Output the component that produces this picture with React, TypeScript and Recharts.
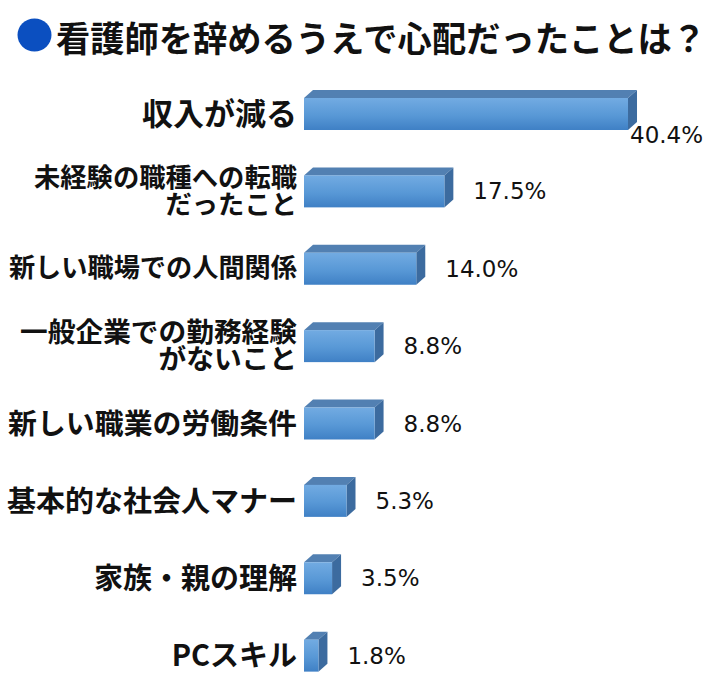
import React from "react";
import { BarChart, Bar, XAxis, YAxis, LabelList } from "recharts";

const TITLE = "看護師を辞めるうえで心配だったことは？";

const categories = [
  "収入が減る",
  "未経験の職種への転職\nだったこと",
  "新しい職場での人間関係",
  "一般企業での勤務経験\nがないこと",
  "新しい職業の労働条件",
  "基本的な社会人マナー",
  "家族・親の理解",
  "PCスキル",
];

const values = [40.4, 17.5, 14.0, 8.8, 8.8, 5.3, 3.5, 1.8];

const valueLabels = ["40.4%", "17.5%", "14.0%", "8.8%", "8.8%", "5.3%", "3.5%", "1.8%"];

const data = categories.map((c, i) => ({ label: c, value: values[i], text: valueLabels[i] }));

// styling
const labelFontSizes = [31, 26.3, 26.2, 27.7, 28.9, 29, 29, 29];
const DX = 9;
const DY = 8;
const CHART_W = 720;

const Bar3D = (props: any) => {
  const { x, y, width, height } = props;
  if (width == null || width <= 0) return null;
  return (
    <g>
      <defs>
        <linearGradient id="frontGrad" x1="0" y1="0" x2="0" y2="1">
          <stop offset="0%" stopColor="#72abe2" />
          <stop offset="55%" stopColor="#5898d6" />
          <stop offset="100%" stopColor="#3f80c5" />
        </linearGradient>
      </defs>
      <polygon
        points={`${x},${y} ${x + DX},${y - DY} ${x + width + DX},${y - DY} ${x + width},${y}`}
        fill="#5280b2"
      />
      <polygon
        points={`${x + width},${y} ${x + DX + width},${y - DY} ${x + width + DX},${y + height - DY} ${x + width},${y + height}`}
        fill="#3c6b9f"
      />
      <rect x={x} y={y} width={width} height={height} fill="url(#frontGrad)" />
    </g>
  );
};

const ValueLabel = (props: any) => {
  const { x, y, width, height, value } = props;
  const approxW = String(value).length * 15.5;
  let tx = x + width + DX + 20;
  let ty = y + height / 2;
  if (tx + approxW > CHART_W) {
    tx = x + width + 2;
    ty = y + height + 5;
  }
  return (
    <text
      x={tx}
      y={ty}
      fontFamily="'DejaVu Sans', sans-serif"
      fontSize={23}
      fill="#111"
      dominantBaseline="central"
    >
      {value}
    </text>
  );
};

const CategoryTick = (props: any) => {
  const { x, y, payload, index } = props;
  const lines = String(payload.value).split("\n");
  const fs = labelFontSizes[index ?? payload.index] ?? 26;
  const lh = 27;
  const start = -((lines.length - 1) * lh) / 2 - 2;
  return (
    <g>
      {lines.map((ln, i) => (
        <text
          key={i}
          x={x}
          y={y + start + i * lh}
          textAnchor="end"
          dominantBaseline="central"
          fontFamily="'Noto Sans CJK JP', sans-serif"
          fontWeight={700}
          fontSize={fs}
          fill="#111"
        >
          {ln}
        </text>
      ))}
    </g>
  );
};

export default function App() {
  return (
    <div style={{ position: "absolute", left: 0, top: 0, width: 720, height: 700, background: "#fff" }}>
      <svg width={720} height={70} style={{ position: "absolute", left: 0, top: 0 }}>
        <ellipse cx={34.5} cy={35} rx={17} ry={16.5} fill="#0b4fc0" />
        <text
          x={56}
          y={36}
          dominantBaseline="central"
          fontFamily="'Noto Sans CJK JP', sans-serif"
          fontWeight={700}
          fontSize={35}
          fill="#111"
          textLength={650}
          lengthAdjust="spacingAndGlyphs"
        >
          {TITLE}
        </text>
      </svg>
      <BarChart
        width={720}
        height={700}
        layout="vertical"
        data={data}
        margin={{ top: 75, right: 15, bottom: 6, left: 0 }}
        style={{ position: "absolute", left: 0, top: 0 }}
      >
        <XAxis type="number" domain={[0, 50]} hide />
        <YAxis
          type="category"
          dataKey="label"
          width={304}
          axisLine={false}
          tickLine={false}
          tickSize={0}
          tickMargin={7}
          interval={0}
          tick={<CategoryTick />}
        />
        <Bar dataKey="value" barSize={32} shape={<Bar3D />} isAnimationActive={false}>
          <LabelList dataKey="text" content={<ValueLabel />} />
        </Bar>
      </BarChart>
    </div>
  );
}
